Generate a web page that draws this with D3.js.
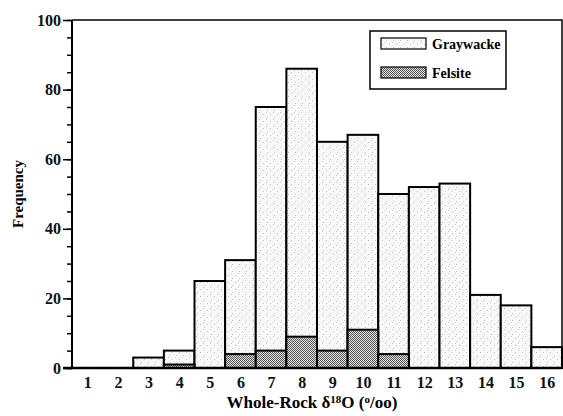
<!DOCTYPE html>
<html>
<head>
<meta charset="utf-8">
<script src="https://cdn.jsdelivr.net/npm/d3@7"></script>
<style>
  body { margin: 0; background: #fff; }
  svg { display: block; font-family: "Liberation Serif", "Times New Roman", serif; }
</style>
</head>
<body>
<svg id="chart" width="563" height="416"></svg>
<script>
// histogram bins (whole-rock d18O, per mil)
const bins = [1, 2, 3, 4, 5, 6, 7, 8, 9, 10, 11, 12, 13, 14, 15, 16];
const graywacke = [0, 0, 3, 5, 25, 31, 75, 86, 65, 67, 50, 52, 53, 21, 18, 6];
const felsite = [0, 0, 0, 1, 0, 4, 5, 9, 5, 11, 4, 0, 0, 0, 0, 0];
const yTicks = [0, 20, 40, 60, 80, 100];
const yMinor = d3.range(0, 101, 5);
const seriesNames = ['Graywacke', 'Felsite'];

const svg = d3.select('#chart');
const pLeft = 72, pRight = 562, pTop = 20, pBottom = 368;

const x = d3.scaleLinear().domain([0.5, 16.5]).range([pLeft, pRight]);
const y = d3.scaleLinear().domain([0, 100]).range([pBottom, pTop]);

// fill patterns
const defs = svg.append('defs');
const gw = defs.append('pattern')
  .attr('id', 'gray').attr('patternUnits', 'userSpaceOnUse')
  .attr('width', 7).attr('height', 7);
gw.append('rect').attr('width', 7).attr('height', 7).attr('fill', '#f8f8f8');
[[0, 0], [4, 2], [1, 5]].forEach(p => {
  gw.append('rect').attr('x', p[0]).attr('y', p[1]).attr('width', 1).attr('height', 1).attr('fill', '#c4c4c4');
});
const fs = defs.append('pattern')
  .attr('id', 'fels').attr('patternUnits', 'userSpaceOnUse')
  .attr('width', 2).attr('height', 2);
fs.append('rect').attr('width', 2).attr('height', 2).attr('fill', '#e4e4e4');
fs.append('rect').attr('x', 0).attr('y', 0).attr('width', 1).attr('height', 1).attr('fill', '#555');
fs.append('rect').attr('x', 1).attr('y', 1).attr('width', 1).attr('height', 1).attr('fill', '#555');

// frame (top and right)
svg.append('path')
  .attr('d', 'M' + pLeft + ',' + pTop + 'H' + pRight + 'V' + pBottom)
  .attr('fill', 'none').attr('stroke', '#000').attr('stroke-width', 1.5);

const w = x(1.5) - x(0.5);

// graywacke bars
svg.append('g').selectAll('rect')
  .data(bins.map((b, i) => ({bin: b, v: graywacke[i]})).filter(d => d.v > 0))
  .join('rect')
  .attr('x', d => x(d.bin - 0.5))
  .attr('y', d => y(d.v))
  .attr('width', w)
  .attr('height', d => y(0) - y(d.v))
  .attr('fill', 'url(#gray)')
  .attr('stroke', '#000')
  .attr('stroke-width', 2);

// felsite bars drawn in front
svg.append('g').selectAll('rect')
  .data(bins.map((b, i) => ({bin: b, v: felsite[i]})).filter(d => d.v > 0))
  .join('rect')
  .attr('x', d => x(d.bin - 0.5))
  .attr('y', d => y(d.v))
  .attr('width', w)
  .attr('height', d => y(0) - y(d.v))
  .attr('fill', 'url(#fels)')
  .attr('stroke', '#000')
  .attr('stroke-width', 2);

// y axis: minor ticks then labelled major ticks
svg.append('g')
  .attr('transform', 'translate(' + pLeft + ',0)')
  .call(d3.axisLeft(y).tickValues(yMinor).tickSize(5).tickFormat(''))
  .call(g => g.select('.domain').remove())
  .call(g => g.selectAll('line').attr('stroke-width', 1.5));

svg.append('g')
  .attr('transform', 'translate(' + pLeft + ',0)')
  .call(d3.axisLeft(y).tickValues(yTicks).tickSize(9).tickPadding(2))
  .call(g => g.select('.domain').attr('stroke-width', 2).attr('d', 'M0,' + pTop + 'V' + pBottom))
  .call(g => g.selectAll('line').attr('stroke-width', 1.5))
  .call(g => g.selectAll('text')
    .attr('font-size', 16).attr('font-weight', 'bold')
    .attr('font-family', '"Liberation Serif", serif').attr('fill', '#111'));

// x axis baseline and labels
svg.append('line')
  .attr('x1', pLeft - 9).attr('x2', pRight)
  .attr('y1', pBottom).attr('y2', pBottom)
  .attr('stroke', '#000').attr('stroke-width', 2.5);

svg.append('g')
  .attr('transform', 'translate(0,' + pBottom + ')')
  .call(d3.axisBottom(x).tickValues(bins).tickSize(0).tickPadding(9).tickFormat(d3.format('d')))
  .call(g => g.select('.domain').remove())
  .call(g => g.selectAll('text')
    .attr('font-size', 16).attr('font-weight', 'bold')
    .attr('font-family', '"Liberation Serif", serif').attr('fill', '#111'));

// axis titles
svg.append('text')
  .attr('transform', 'translate(23,' + (pTop + pBottom) / 2 + ') rotate(-90)')
  .attr('text-anchor', 'middle')
  .attr('font-size', 15).attr('font-weight', 'bold')
  .text('Frequency');

const xt = svg.append('text')
  .attr('x', 312).attr('y', 408)
  .attr('text-anchor', 'middle')
  .attr('font-size', 17).attr('font-weight', 'bold');
xt.append('tspan').text('Whole-Rock δ');
xt.append('tspan').attr('font-size', 11).attr('dy', -5).text('18');
xt.append('tspan').attr('dy', 5).text('O (');
xt.append('tspan').attr('font-size', 11).attr('dy', -5).text('o');
xt.append('tspan').attr('dy', 5).text('/oo)');

// legend
const lg = svg.append('g');
lg.append('rect')
  .attr('x', 370).attr('y', 31).attr('width', 136).attr('height', 58)
  .attr('fill', '#fff').attr('stroke', '#000').attr('stroke-width', 1.5);
const fills = ['url(#gray)', 'url(#fels)'];
seriesNames.forEach((name, i) => {
  lg.append('rect')
    .attr('x', 381).attr('y', 38 + i * 29).attr('width', 45).attr('height', 11)
    .attr('fill', fills[i]).attr('stroke', '#000').attr('stroke-width', 1.2);
  lg.append('text')
    .attr('x', 432).attr('y', 49 + i * 29)
    .attr('font-size', 14).attr('font-weight', 'bold')
    .text(name);
});
</script>
</body>
</html>
